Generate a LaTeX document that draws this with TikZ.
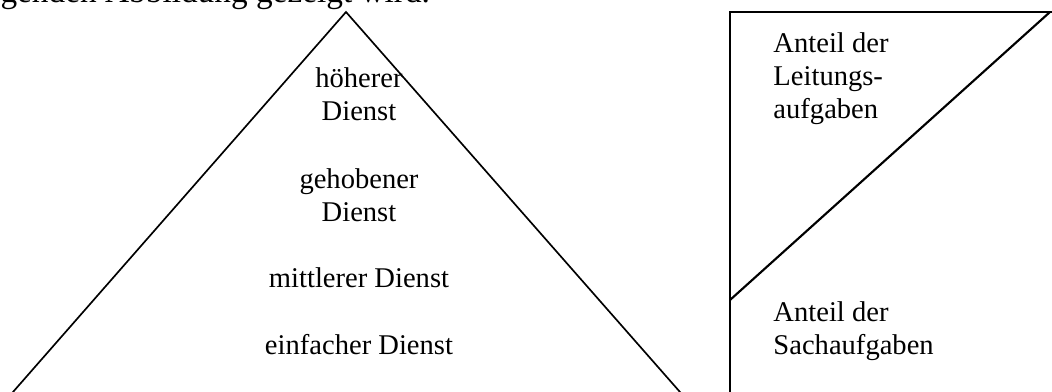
\documentclass[tikz,border=0pt]{standalone}
\usepackage{fontspec}
\setmainfont{Liberation Serif}
\begin{document}
\begin{tikzpicture}[x=0.42pt,y=-0.42pt,
  lbl/.style={font=\fontsize{12pt}{14pt}\selectfont, inner sep=0pt, align=center},
  lbll/.style={font=\fontsize{12pt}{14pt}\selectfont, inner sep=0pt, align=left},
  bodytext/.style={font=\fontsize{14pt}{16pt}\selectfont, inner sep=0pt},
  tri/.style={line width=0.7pt, line join=miter},
  boxline/.style={line width=1.1pt},
  diag/.style={line width=0.9pt}]
\clip (0,0) rectangle (1052,392);
\useasboundingbox (0,0) rectangle (1052,392);
% intro text, cut at the top
\node[bodytext, anchor=base west] (intro) at (-37,3) {folgenden Abbildung gezeigt wird.};
% pyramid
\coordinate (apex) at (346,12);
\coordinate (bl) at (6,400);
\coordinate (br) at (687,400);
\draw[tri] (bl) -- (apex) -- (br);
\node[lbl, anchor=base] (hd) at (359,121) {höherer\\Dienst};
\node[lbl, anchor=base] (gd) at (359,222) {gehobener\\Dienst};
\node[lbl, anchor=base] (md) at (359,288) {mittlerer Dienst};
\node[lbl, anchor=base] (ed) at (359,355) {einfacher Dienst};
% box
\coordinate (tl) at (730,12);
\coordinate (tr) at (1060,12);
\coordinate (bot) at (730,400);
\coordinate (dtop) at (1050,12);
\coordinate (dleft) at (730,300);
\draw[boxline] (bot) -- (tl) -- (tr);
\draw[diag] (dleft) -- (dtop);
\node[lbll, anchor=base west] (la) at (773,119) {Anteil der\\Leitungs-\\aufgaben};
\node[lbll, anchor=base west] (sa) at (773,355) {Anteil der\\Sachaufgaben};
\end{tikzpicture}
\end{document}
